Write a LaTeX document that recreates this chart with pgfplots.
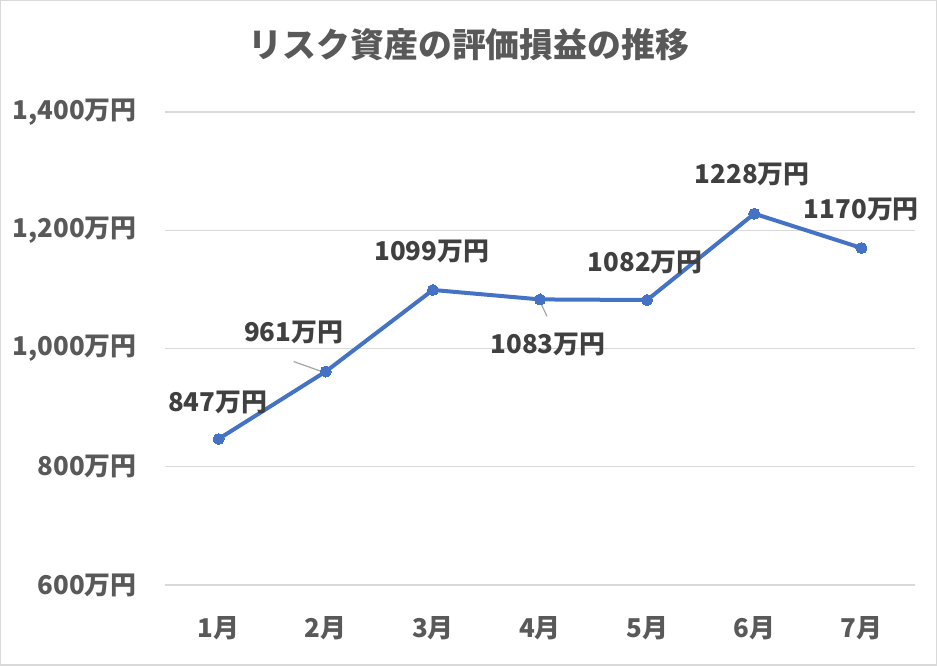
\documentclass[border=0pt]{standalone}
\usepackage{pgfplots}
\pgfplotsset{compat=1.18}
\usepackage{fontspec}
\setmainfont{Noto Sans CJK JP}
\definecolor{tickgray}{RGB}{89,89,89}
\definecolor{labgray}{RGB}{64,64,64}
\definecolor{gridgray}{RGB}{217,217,217}
\definecolor{lineblue}{RGB}{68,114,196}
\definecolor{leadergray}{RGB}{166,166,166}
\begin{document}
\begin{tikzpicture}[x=1bp,y=1bp]
\draw[gridgray, line width=1.5bp, use as bounding box] (0.75,0.75) rectangle (936.25,665.25);
\node[text=tickgray, font=\fontsize{34}{40}\selectfont\bfseries] at (469,621) {リスク資産の評価損益の推移};
\begin{axis}[at={(165bp,81bp)}, anchor=south west, scale only axis,
  width=750bp, height=473bp,
  xmin=0.5, xmax=7.5, ymin=600, ymax=1400,
  ytick={600,800,1000,1200,1400},
  yticklabels={600万円,800万円,{1,000万円},{1,200万円},{1,400万円}},
  xtick={1,2,3,4,5,6,7},
  xticklabels={1月,2月,3月,4月,5月,6月,7月},
  axis line style={draw=none},
  major tick length=0pt,
  tick style={draw=none},
  ymajorgrids, grid style={gridgray, line width=1.2bp},
  yticklabel style={font=\fontsize{26}{30}\selectfont\bfseries, text=tickgray, inner sep=0pt, anchor=east},
  xticklabel style={font=\fontsize{26}{30}\selectfont\bfseries, text=tickgray, inner sep=0pt, anchor=center},
  yticklabel shift=28bp,
  xticklabel shift=43bp,
  clip=false,
]
\addplot[lineblue, line width=4bp, mark=*, mark size=5.5bp, mark options={fill=lineblue, draw=lineblue, line width=0pt}]
  coordinates {(1,847) (2,961) (3,1099) (4,1083) (5,1082) (6,1228) (7,1170)};
\draw[leadergray, line width=1.2bp] (axis cs:2,961) ++(-32bp,10bp) -- ++(28bp,-10bp);
\draw[leadergray, line width=1.2bp] (axis cs:4,1083) ++(0bp,-2bp) -- ++(7bp,-15bp);
\begin{scope}[every node/.style={font=\fontsize{26}{30}\selectfont\bfseries, text=labgray, inner sep=0pt}]
\node at (axis cs:1,847)  [xshift=-1bp, yshift=37bp] {847万円};
\node at (axis cs:2,961)  [xshift=-32bp, yshift=39bp] {961万円};
\node at (axis cs:3,1099) [xshift=-1bp, yshift=39bp] {1099万円};
\node at (axis cs:4,1083) [xshift=8bp, yshift=-45bp] {1083万円};
\node at (axis cs:5,1082) [xshift=-2bp, yshift=38bp] {1082万円};
\node at (axis cs:6,1228) [xshift=-2bp, yshift=39bp] {1228万円};
\node at (axis cs:7,1170) [xshift=0bp, yshift=39bp] {1170万円};
\end{scope}
\end{axis}
\end{tikzpicture}
\end{document}
